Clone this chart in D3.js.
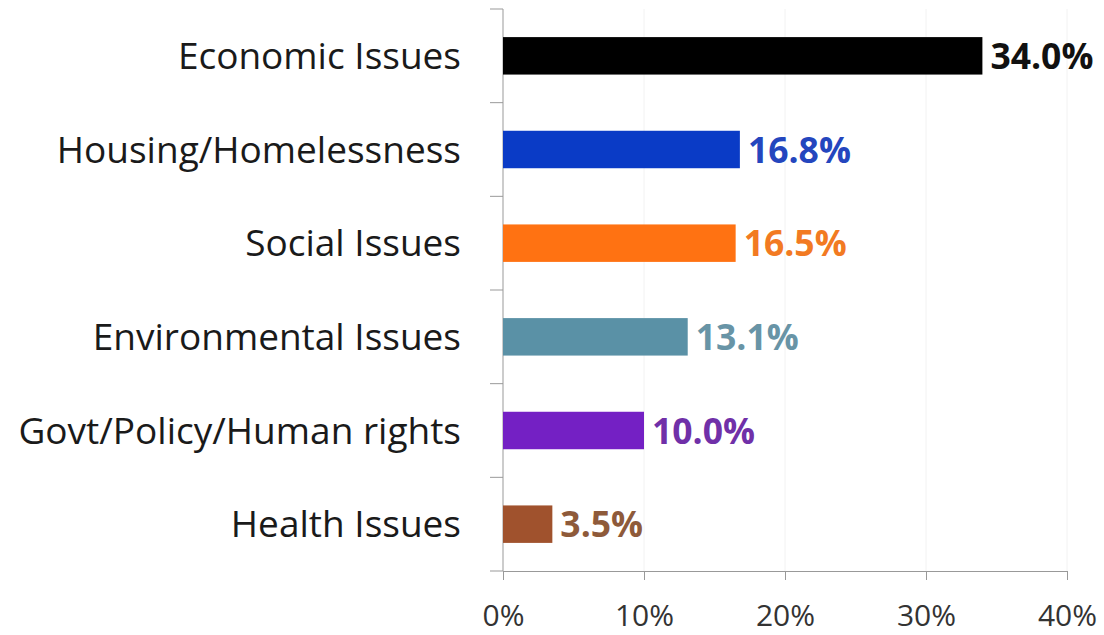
<!DOCTYPE html>
<html>
<head>
<meta charset="utf-8">
<script src="https://cdn.jsdelivr.net/npm/d3@7"></script>
<style>
  body { margin: 0; background: #fff; }
  svg { display: block; font-family: "Open Sans", Lato, sans-serif; }
  .cat-label { font-size: 37px; fill: #1a1a1a; }
  .val-label { font-size: 35.5px; font-weight: bold; }
  .x-axis text { font-size: 30px; fill: #333; font-family: "Open Sans", sans-serif; }
  .x-axis path, .x-axis line, .y-line { stroke: #999; }
  .grid-line { stroke: #f2f2f2; }
</style>
</head>
<body>
<svg id="chart" width="1104" height="635"></svg>
<script>
const categories = ["Economic Issues", "Housing/Homelessness", "Social Issues",
                    "Environmental Issues", "Govt/Policy/Human rights", "Health Issues"];
const values = [34.0, 16.8, 16.5, 13.1, 10.0, 3.5];
const barColors = ["#000000", "#0a3bc6", "#ff7212", "#5a91a6", "#7420c4", "#a0522d"];
const labelColors = ["#111111", "#2446be", "#f27a22", "#6894a6", "#7030a8", "#8e5a3a"];
const xTicks = [0, 10, 20, 30, 40];

const svg = d3.select("#chart");
const plotLeft = 503, plotRight = 1067, plotTop = 9, plotBottom = 571;

const x = d3.scaleLinear().domain([0, 40]).range([plotLeft, plotRight]);
const y = d3.scaleBand().domain(categories).range([plotTop, plotBottom])
            .paddingInner(0.6).paddingOuter(0.3);

// faint gridlines
svg.append('g').selectAll('line')
    .data(xTicks.slice(1))
    .join('line')
    .classed('grid-line', true)
    .attr('x1', d => x(d)).attr('x2', d => x(d))
    .attr('y1', plotTop).attr('y2', plotBottom);

// x axis
const xAxis = d3.axisBottom(x).tickValues(xTicks).tickSize(9).tickSizeOuter(0)
                .tickFormat(d => d + "%");
svg.append('g')
    .attr('class', 'x-axis')
    .attr('transform', `translate(0, ${plotBottom})`)
    .call(xAxis)
    .call(g => g.selectAll('text').attr('y', 55).attr('dy', 0));

// y axis line + ticks at band boundaries
svg.append('line').classed('y-line', true)
    .attr('x1', plotLeft).attr('x2', plotLeft).attr('y1', plotTop).attr('y2', plotBottom);
const bounds = d3.range(categories.length + 1).map(i => plotTop + i * y.step());
svg.append('g').selectAll('line')
    .data(bounds)
    .join('line')
    .classed('y-line', true)
    .attr('x1', plotLeft - 13).attr('x2', plotLeft)
    .attr('y1', d => d).attr('y2', d => d);

// bars
svg.append('g').selectAll('rect')
    .data(categories)
    .join('rect')
    .attr('x', x(0))
    .attr('y', d => y(d))
    .attr('width', (d, i) => x(values[i]) - x(0))
    .attr('height', y.bandwidth())
    .attr('fill', (d, i) => barColors[i]);

// category labels
svg.append('g').selectAll('text')
    .data(categories)
    .join('text')
    .classed('cat-label', true)
    .attr('x', 461)
    .attr('y', d => y(d) + y.bandwidth() / 2)
    .attr('dy', '0.36em')
    .attr('text-anchor', 'end')
    .text(d => d);

// value labels
svg.append('g').selectAll('text')
    .data(categories)
    .join('text')
    .classed('val-label', true)
    .attr('x', (d, i) => x(values[i]) + 8)
    .attr('y', d => y(d) + y.bandwidth() / 2)
    .attr('dy', '0.37em')
    .attr('fill', (d, i) => labelColors[i])
    .text((d, i) => values[i].toFixed(1) + "%");
</script>
</body>
</html>
